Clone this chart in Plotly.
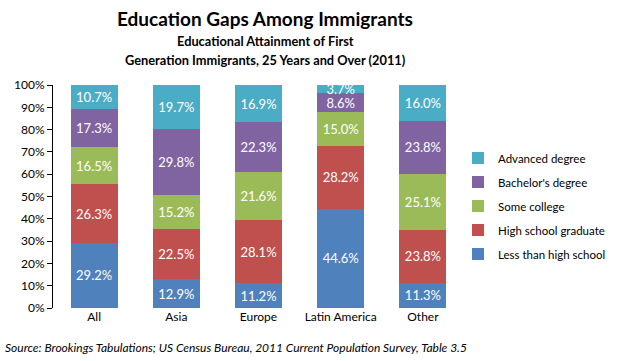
import plotly.graph_objects as go

categories = ["All", "Asia", "Europe", "Latin America", "Other"]
less_than_hs = [29.2, 12.9, 11.2, 44.6, 11.3]
hs_graduate = [26.3, 22.5, 28.1, 28.2, 23.8]
some_college = [16.5, 15.2, 21.6, 15.0, 25.1]
bachelors = [17.3, 29.8, 22.3, 8.6, 23.8]
advanced = [10.7, 19.7, 16.9, 3.7, 16.0]

series = [
    ("Less than high school", less_than_hs, "#4F81BD"),
    ("High school graduate", hs_graduate, "#C0504D"),
    ("Some college", some_college, "#9BBB59"),
    ("Bachelor's degree", bachelors, "#8064A2"),
    ("Advanced degree", advanced, "#4BACC6"),
]

FONT = "Lato, 'Open Sans', sans-serif"
L, R, T, B = 53, 153, 85, 53
PW = 617 - L - R
PH = 361 - T - B

fig = go.Figure()
for i, (name, vals, color) in enumerate(series):
    fig.add_trace(go.Bar(
        x=categories,
        y=[v / 100 for v in vals],
        name=name,
        legendgroup=name,
        legendrank=1000 - i,
        marker=dict(color=color, line=dict(width=0)),
        text=[f"{v:.1f}%" for v in vals],
        textposition="inside",
        insidetextanchor="middle",
        textangle=0,
        textfont=dict(color="white", size=13, family=FONT),
        constraintext="none",
        hoverinfo="skip",
    ))

fig.update_layout(
    width=617, height=361,
    barmode="stack",
    bargap=0.43,
    plot_bgcolor="white",
    paper_bgcolor="white",
    margin=dict(l=L, r=R, t=T, b=B, autoexpand=False),
    font=dict(family=FONT, color="#000000", size=12),
    uniformtext=dict(minsize=8, mode="show"),
    showlegend=True,
    legend=dict(
        x=(458 - L) / PW, y=1 - (206 - T) / PH, xanchor="left", yanchor="middle",
        traceorder="grouped",
        tracegroupgap=5,
        font=dict(size=11.5, family=FONT),
        itemwidth=30,
        bgcolor="rgba(0,0,0,0)",
    ),
    xaxis=dict(
        showline=False, ticks="", showgrid=False,
        tickfont=dict(size=12, family=FONT),
    ),
    yaxis=dict(
        range=[0, 1], dtick=0.1, tickformat=".0%",
        showgrid=False, zeroline=False,
        showline=True, linecolor="#000000", linewidth=1,
        ticks="outside", ticklen=5, tickcolor="#000000",
        tickfont=dict(size=12, family=FONT),
    ),
)

cx = (265 - L) / PW
fig.add_annotation(text="<b>Education Gaps Among Immigrants</b>", xref="paper", yref="paper",
                   x=cx, y=1, yshift=T - 18, xanchor="center", yanchor="middle",
                   showarrow=False, font=dict(size=19, family=FONT))
fig.add_annotation(text="<b>Educational Attainment of First</b>", xref="paper", yref="paper",
                   x=cx, y=1, yshift=T - 41, xanchor="center", yanchor="middle",
                   showarrow=False, font=dict(size=12.8, family=FONT))
fig.add_annotation(text="<b>Generation Immigrants, 25 Years and Over (2011)</b>", xref="paper", yref="paper",
                   x=cx, y=1, yshift=T - 60, xanchor="center", yanchor="middle",
                   showarrow=False, font=dict(size=12.8, family=FONT))
fig.add_annotation(text="<i>Source: Brookings Tabulations; US Census Bureau, 2011 Current Population Survey, Table 3.5</i>",
                   xref="paper", yref="paper", x=0, y=0, xshift=3 - L, yshift=-(347 - (361 - B)),
                   xanchor="left", yanchor="middle", showarrow=False,
                   font=dict(size=12, family=FONT))

fig.write_html("out.html", config={"displayModeBar": False},
               post_script="document.body.style.margin='0';")
